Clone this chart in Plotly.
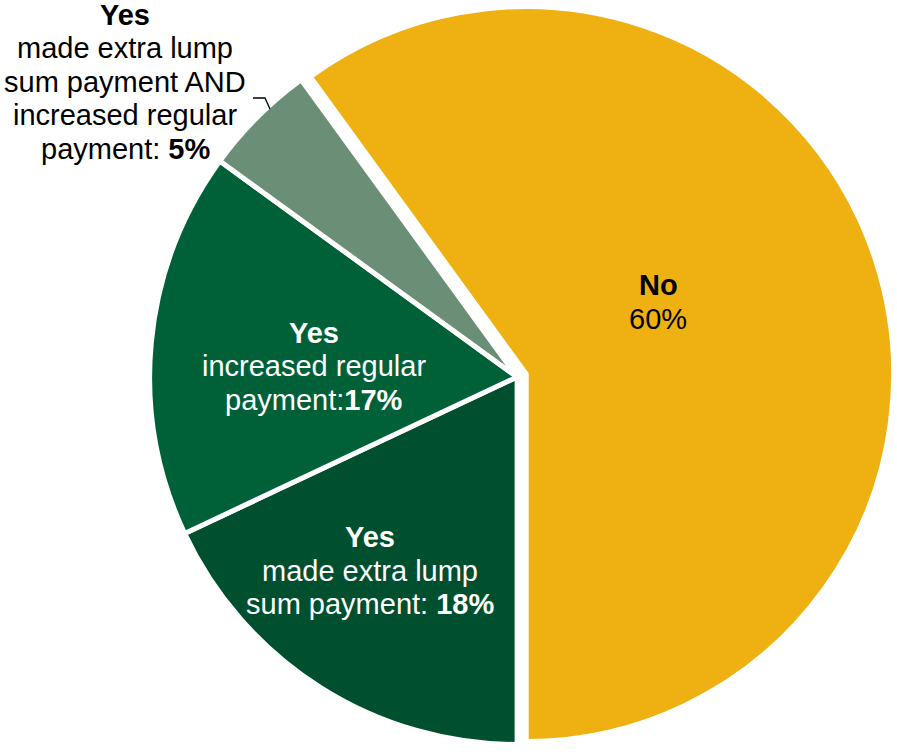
import plotly.graph_objects as go

# Survey answers and their shares (%)
categories = [
    "No",
    "Yes – made extra lump sum payment",
    "Yes – increased regular payment",
    "Yes – made extra lump sum payment AND increased regular payment",
]
shares = [60, 18, 17, 5]

slice_colors = ["#EFB112", "#004F2F", "#006138", "#6A8E76"]

W, H = 897, 754
FONT = "Arial, Liberation Sans, sans-serif"
FS = 29
LINE_STEP = 33.5

fig = go.Figure(
    go.Pie(
        labels=categories,
        values=shares,
        sort=False,
        direction="clockwise",
        rotation=-36,
        pull=[0.026, 0, 0, 0],
        marker=dict(colors=slice_colors, line=dict(color="white", width=5)),
        textinfo="none",
        hoverinfo="label+percent",
        domain=dict(x=[0.156, 0.997], y=[0, 1]),
        showlegend=False,
    )
)

# Label text per slice (lines), with the percentage taken from the data
label_lines = [
    ["<b>No</b>", f"{shares[0]}%"],
    ["<b>Yes</b>", "made extra lump", f"sum payment: <b>{shares[1]}%</b>"],
    ["<b>Yes</b>", "increased regular", f"payment:<b>{shares[2]}%</b>"],
    ["<b>Yes</b>", "made extra lump", "sum payment AND",
     "increased regular", f"payment: <b>{shares[3]}%</b>"],
]
# (centre x, first baseline y) in pixels, and text colour
label_anchor = [(658, 295), (370, 547), (314, 343), (125, 25)]
label_color = ["black", "white", "white", "black"]

annotations = []
for lines, (cx, by), col in zip(label_lines, label_anchor, label_color):
    for k, txt in enumerate(lines):
        base = by + k * LINE_STEP
        annotations.append(dict(
            x=cx / W, y=1 - (base - 10) / H,
            xref="paper", yref="paper",
            xanchor="center", yanchor="middle",
            text=txt, showarrow=False,
            font=dict(family=FONT, size=FS, color=col),
        ))

# Leader line from the outside label to the small slice
def px(x, y):
    return f"{x / W:.5f},{1 - y / H:.5f}"

leader = dict(
    type="path", xref="paper", yref="paper",
    path=f"M {px(253, 98)} L {px(265, 98)} L {px(270, 109)}",
    line=dict(color="black", width=1.3),
)

fig.update_layout(
    width=W, height=H,
    margin=dict(l=0, r=0, t=0, b=0),
    paper_bgcolor="white",
    plot_bgcolor="white",
    annotations=annotations,
    shapes=[leader],
)

fig.write_html("out.html")
